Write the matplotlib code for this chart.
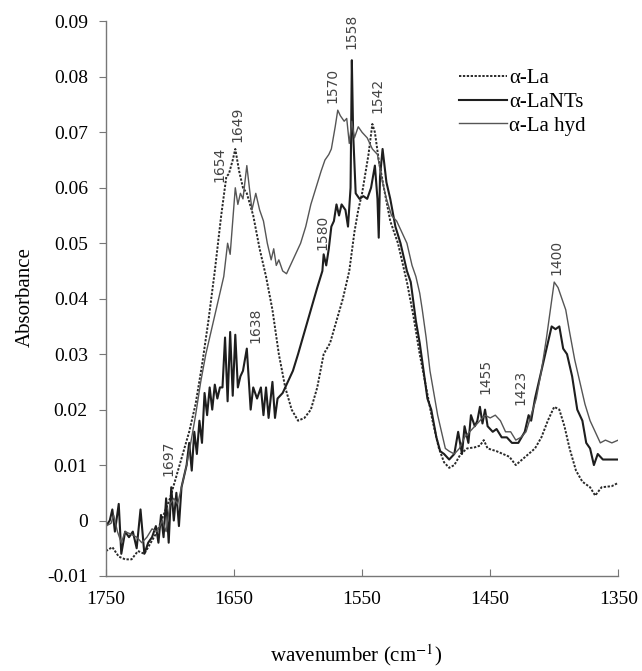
import numpy as np
import matplotlib
matplotlib.use("Agg")
import matplotlib.pyplot as plt

plt.rcParams['font.family'] = ['Liberation Serif', 'DejaVu Serif']
plt.rcParams['mathtext.fontset'] = 'stix'

# alpha-La (dotted)
la_wn = [1750, 1745, 1740, 1735, 1730, 1725, 1720, 1715, 1710, 1705, 1700, 1695,
         1690, 1685, 1680, 1675, 1670, 1665, 1660, 1656, 1654, 1651, 1649, 1646,
         1643, 1640, 1635, 1630, 1625, 1620, 1615, 1610, 1605, 1600, 1595, 1590,
         1585, 1580, 1575, 1570, 1565, 1560, 1556, 1553, 1550, 1545, 1542, 1540,
         1537, 1533, 1528, 1522, 1515, 1510, 1505, 1500, 1495, 1490, 1486, 1482,
         1478, 1473, 1468, 1462, 1458, 1455, 1452, 1445, 1440, 1435, 1430, 1425,
         1420, 1415, 1410, 1405, 1400, 1396, 1392, 1388, 1383, 1378, 1372, 1368,
         1363, 1355, 1350]
la_abs = [-0.0055, -0.0048, -0.0065, -0.007, -0.007, -0.0055, -0.006, -0.004,
          -0.002, 0.001, 0.004, 0.008, 0.012, 0.016, 0.021, 0.028, 0.036, 0.045,
          0.055, 0.062, 0.0625, 0.065, 0.067, 0.063, 0.060, 0.059, 0.055, 0.049,
          0.044, 0.038, 0.030, 0.024, 0.020, 0.018, 0.0185, 0.020, 0.024, 0.030,
          0.032, 0.036, 0.040, 0.045, 0.052, 0.056, 0.059, 0.066, 0.0715, 0.070,
          0.065, 0.060, 0.054, 0.050, 0.043, 0.037, 0.030, 0.024, 0.018, 0.013,
          0.0105, 0.0095, 0.010, 0.012, 0.013, 0.0132, 0.0135, 0.0145, 0.013,
          0.0125, 0.012, 0.0115, 0.010, 0.011, 0.012, 0.013, 0.015, 0.018, 0.0205,
          0.020, 0.017, 0.013, 0.009, 0.007, 0.006, 0.0045, 0.006, 0.0062, 0.0068]

# alpha-LaNTs (dark solid)
nts_wn = [1750, 1747, 1745, 1743, 1740, 1738, 1735, 1732, 1729, 1726, 1723, 1720,
          1717, 1714, 1711, 1709, 1707, 1705, 1703, 1701, 1699, 1697, 1695, 1693,
          1691, 1689, 1687, 1685, 1683, 1681, 1679, 1677, 1675, 1673, 1671, 1669,
          1667, 1665, 1663, 1661, 1659, 1657, 1655, 1653, 1651, 1649, 1647, 1645,
          1643, 1640, 1637, 1635, 1632, 1629, 1627, 1625, 1623, 1620, 1618, 1616,
          1612, 1608, 1604, 1600, 1595, 1590, 1585, 1581, 1580, 1578, 1576, 1574,
          1572, 1570, 1568, 1566, 1563, 1561, 1559, 1558, 1557, 1555, 1552, 1549,
          1546, 1543, 1540, 1538, 1537, 1536, 1534, 1531, 1528, 1524, 1520, 1515,
          1512, 1508, 1505, 1502, 1499, 1496, 1492, 1489, 1486, 1482, 1478, 1475,
          1472, 1470, 1467, 1465, 1462, 1460, 1458, 1456, 1454, 1452, 1448, 1445,
          1441, 1437, 1433, 1428, 1423, 1420, 1418, 1415, 1410, 1405, 1402, 1399,
          1396, 1393, 1390, 1386, 1382, 1378, 1375, 1372, 1369, 1366, 1362, 1356,
          1350]
nts_abs = [-0.001, 0.000, 0.002, -0.002, 0.003, -0.006, -0.002, -0.003, -0.002,
           -0.005, 0.002, -0.006, -0.004, -0.003, -0.001, -0.004, 0.001, -0.003,
           0.004, -0.004, 0.006, 0.000, 0.005, -0.001, 0.006, 0.008, 0.010, 0.014,
           0.009, 0.016, 0.012, 0.018, 0.014, 0.023, 0.019, 0.024, 0.020, 0.0245,
           0.022, 0.024, 0.024, 0.033, 0.0215, 0.034, 0.0225, 0.0335, 0.024, 0.026,
           0.027, 0.031, 0.020, 0.024, 0.022, 0.024, 0.019, 0.024, 0.0185, 0.025,
           0.0185, 0.022, 0.023, 0.025, 0.027, 0.030, 0.034, 0.038, 0.042, 0.045,
           0.048, 0.046, 0.049, 0.053, 0.054, 0.057, 0.055, 0.057, 0.056, 0.053,
           0.060, 0.083, 0.070, 0.059, 0.058, 0.0585, 0.058, 0.060, 0.064, 0.058,
           0.051, 0.062, 0.067, 0.061, 0.058, 0.053, 0.050, 0.045, 0.043, 0.036,
           0.032, 0.027, 0.022, 0.020, 0.015, 0.0125, 0.012, 0.011, 0.012, 0.016,
           0.012, 0.017, 0.014, 0.019, 0.017, 0.018, 0.0205, 0.0175, 0.020, 0.017,
           0.016, 0.0165, 0.015, 0.015, 0.014, 0.014, 0.016, 0.019, 0.018, 0.022,
           0.027, 0.032, 0.035, 0.0345, 0.035, 0.031, 0.030, 0.026, 0.020, 0.018,
           0.014, 0.013, 0.010, 0.012, 0.011, 0.011, 0.011]

# alpha-La hyd (grey solid)
hyd_wn = [1750, 1746, 1744, 1741, 1738, 1735, 1730, 1726, 1722, 1718, 1714, 1710,
          1706, 1703, 1700, 1697, 1694, 1690, 1687, 1683, 1680, 1676, 1672, 1668,
          1665, 1661, 1658, 1655, 1653, 1651, 1649, 1647, 1645, 1643, 1640, 1638,
          1636, 1633, 1630, 1627, 1624, 1621, 1619, 1617, 1615, 1612, 1609, 1606,
          1602, 1598, 1594, 1590, 1586, 1582, 1579, 1576, 1574, 1571, 1569, 1567,
          1564, 1562, 1560, 1558, 1556, 1553, 1550, 1546, 1542, 1538, 1535, 1531,
          1527, 1523, 1519, 1515, 1511, 1508, 1505, 1503, 1500, 1497, 1494, 1491,
          1488, 1485, 1482, 1478, 1474, 1470, 1466, 1462, 1458, 1454, 1450, 1446,
          1442, 1438, 1434, 1430, 1426, 1422, 1418, 1414, 1410, 1406, 1403, 1400,
          1397, 1394, 1391, 1388, 1384, 1380, 1376, 1372, 1368, 1364, 1360, 1355,
          1350]
hyd_abs = [-0.001, -0.0005, 0.001, -0.002, -0.004, -0.002, -0.0025, -0.003,
           -0.004, -0.003, -0.0015, -0.002, 0.0, -0.002, 0.003, 0.004, 0.003, 0.007,
           0.010, 0.015, 0.019, 0.025, 0.030, 0.034, 0.037, 0.041, 0.044, 0.050,
           0.048, 0.054, 0.060, 0.057, 0.059, 0.058, 0.064, 0.060, 0.056, 0.059,
           0.056, 0.054, 0.050, 0.047, 0.049, 0.046, 0.047, 0.045, 0.0445, 0.046,
           0.048, 0.050, 0.053, 0.057, 0.060, 0.063, 0.065, 0.066, 0.067, 0.071,
           0.074, 0.073, 0.072, 0.0725, 0.068, 0.072, 0.069, 0.071, 0.070, 0.069,
           0.067, 0.066, 0.062, 0.058, 0.055, 0.054, 0.052, 0.050, 0.046, 0.044,
           0.041, 0.038, 0.033, 0.027, 0.023, 0.019, 0.016, 0.013, 0.0125, 0.012,
           0.013, 0.015, 0.016, 0.017, 0.018, 0.019, 0.0185, 0.019, 0.018, 0.016,
           0.016, 0.0145, 0.015, 0.016, 0.019, 0.022, 0.027, 0.033, 0.038, 0.043,
           0.042, 0.040, 0.038, 0.034, 0.029, 0.025, 0.021, 0.018, 0.016, 0.014,
           0.0145, 0.014, 0.0145]

# peak labels: text, x, y (bottom of rotated text)
peak_text = ['1697', '1654', '1649', '1638', '1580', '1570', '1558', '1542',
             '1455', '1423', '1400']
peak_x = [1701, 1661, 1647, 1633, 1581, 1573, 1558, 1538, 1454, 1426, 1398]
peak_y = [0.0080, 0.0610, 0.0682, 0.0320, 0.0487, 0.0752, 0.0850, 0.0734,
          0.0229, 0.0209, 0.0442]

fig = plt.figure(figsize=(6.42, 6.71), dpi=100)
ax = fig.add_axes([0.165, 0.1416, 0.798, 0.8265])

ax.plot(la_wn, la_abs, color='#2a2a2a', linestyle=(0, (1.2, 0.8)), linewidth=1.4,
        label='α-La')
ax.plot(nts_wn, nts_abs, color='#1e1e1e', linewidth=1.5, label='α-LaNTs')
ax.plot(hyd_wn, hyd_abs, color='#555555', linewidth=1.0, label='α-La hyd')

for t, x, y in zip(peak_text, peak_x, peak_y):
    ax.text(x, y, t, rotation=90, ha='center', va='bottom', fontsize=10,
            color='#444444', family=['Liberation Sans Narrow', 'DejaVu Sans'],
            clip_on=False)

ax.set_xlim(1750, 1350)
ax.set_ylim(-0.01, 0.09)
ax.set_xticks([1750, 1650, 1550, 1450, 1350])
ax.set_yticks(np.arange(-0.01, 0.0901, 0.01))
ax.set_yticklabels(['-0.01', '0', '0.01', '0.02', '0.03', '0.04', '0.05',
                    '0.06', '0.07', '0.08', '0.09'])

for s in ['top', 'right']:
    ax.spines[s].set_visible(False)
for s in ['left', 'bottom']:
    ax.spines[s].set_color('#777777')
    ax.spines[s].set_linewidth(1.0)

ax.tick_params(axis='y', direction='out', length=5, color='#777777',
               labelsize=14, pad=8)
ax.tick_params(axis='x', direction='in', length=5, color='#777777',
               labelsize=14, pad=11)

ax.set_ylabel('Absorbance', fontsize=15)
ax.yaxis.set_label_coords(-0.138, 0.503)
ax.set_xlabel('wavenumber (cm$^{-1}$)', fontsize=15)
ax.xaxis.set_label_coords(0.488, -0.12)

ax.legend(loc='upper left', bbox_to_anchor=(0.69, 0.915), frameon=False,
          fontsize=15, handlelength=2.3, handletextpad=0.1, labelspacing=0.2,
          borderpad=0, borderaxespad=0)

plt.savefig('out.png', dpi=100)
